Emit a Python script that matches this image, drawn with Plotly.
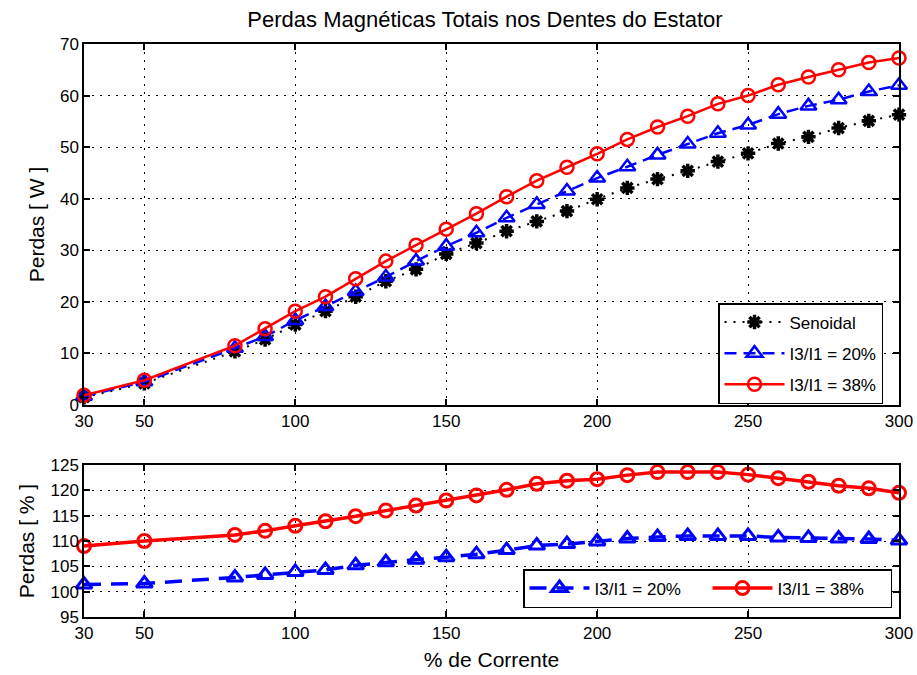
import plotly.graph_objects as go

# Percentage of rated current
corrente = [30, 50, 80, 90, 100, 110, 120, 130, 140, 150, 160, 170, 180,
            190, 200, 210, 220, 230, 240, 250, 260, 270, 280, 290, 300]

# Total magnetic losses in the stator teeth [W]
perdas_senoidal = [1.5, 4.2, 10.4, 12.7, 15.6, 18.2, 21.0, 24.0, 26.3, 29.3,
                   31.4, 33.7, 35.6, 37.6, 39.9, 42.1, 43.8, 45.4, 47.2, 48.8,
                   50.7, 52.0, 53.7, 55.1, 56.3]
perdas_i3_20 = [1.7, 4.5, 11.0, 13.3, 16.4, 19.1, 22.0, 24.8, 27.9, 30.8,
                33.4, 36.3, 38.9, 41.5, 44.0, 46.2, 48.5, 50.6, 52.7, 54.3,
                56.4, 58.0, 59.2, 60.8, 62.0]
perdas_i3_38 = [1.9, 4.8, 11.5, 14.8, 18.2, 21.0, 24.5, 27.9, 31.0, 34.1,
                37.1, 40.4, 43.5, 46.1, 48.7, 51.5, 53.9, 56.0, 58.4, 60.0,
                62.1, 63.6, 65.0, 66.4, 67.3]

# Losses relative to the sinusoidal case [%]
rel_i3_20 = [101.4, 101.6, 102.8, 103.3, 103.9, 104.3, 105.2, 105.8, 106.3,
             106.8, 107.4, 108.2, 109.1, 109.4, 109.9, 110.5, 110.8, 111.0,
             111.0, 111.0, 110.7, 110.6, 110.5, 110.4, 110.1]
rel_i3_38 = [109.0, 110.0, 111.2, 112.0, 113.0, 113.9, 114.9, 116.0, 117.0,
             118.0, 119.0, 120.1, 121.3, 121.9, 122.2, 123.0, 123.6, 123.6,
             123.6, 123.1, 122.4, 121.7, 120.9, 120.4, 119.5]

x_ticks = [30, 50, 100, 150, 200, 250, 300]
y_ticks_top = [0, 10, 20, 30, 40, 50, 60, 70]
y_ticks_bot = [95, 100, 105, 110, 115, 120, 125]

FONT = "Liberation Sans, Arial, sans-serif"
BLACK, BLUE, RED = "#000000", "#0000ff", "#ff0000"
TICK_SIZE = 17
LABEL_SIZE = 21

fig = go.Figure()

# Upper panel: absolute losses
fig.add_trace(go.Scatter(
    x=corrente, y=perdas_senoidal, name="Senoidal", mode="lines+markers",
    line=dict(color=BLACK, width=2, dash="2px,7px"),
    marker=dict(symbol="asterisk-open", size=12, color=BLACK,
                line=dict(color=BLACK, width=3.5)),
    legend="legend", legendgroup="a", cliponaxis=False,
    xaxis="x", yaxis="y"))
fig.add_trace(go.Scatter(
    x=corrente, y=perdas_i3_20, name="I3/I1 = 20%", mode="lines+markers",
    line=dict(color=BLUE, width=2.5, dash="12px,7px"),
    marker=dict(symbol="triangle-up-open", size=14, color=BLUE,
                line=dict(color=BLUE, width=2.5)),
    legend="legend", legendgroup="b", cliponaxis=False,
    xaxis="x", yaxis="y"))
fig.add_trace(go.Scatter(
    x=corrente, y=perdas_i3_38, name="I3/I1 = 38%", mode="lines+markers",
    line=dict(color=RED, width=2.5),
    marker=dict(symbol="circle-open", size=13, color=RED,
                line=dict(color=RED, width=2.5)),
    legend="legend", legendgroup="c", cliponaxis=False,
    xaxis="x", yaxis="y"))

# Lower panel: relative losses
fig.add_trace(go.Scatter(
    x=corrente, y=rel_i3_20, name="I3/I1 = 20%", mode="lines+markers",
    line=dict(color=BLUE, width=3.5, dash="17px,10px"),
    marker=dict(symbol="triangle-up-open", size=14, color=BLUE,
                line=dict(color=BLUE, width=3)),
    legend="legend2", cliponaxis=False, xaxis="x2", yaxis="y2"))
fig.add_trace(go.Scatter(
    x=corrente, y=rel_i3_38, name="I3/I1 = 38%", mode="lines+markers",
    line=dict(color=RED, width=3.5),
    marker=dict(symbol="circle-open", size=13, color=RED,
                line=dict(color=RED, width=3)),
    legend="legend2", cliponaxis=False, xaxis="x2", yaxis="y2"))

axis_common = dict(
    automargin=False,
    showline=True, linecolor=BLACK, linewidth=1.5, mirror="ticks",
    ticks="inside", ticklen=6, tickcolor=BLACK, tickwidth=1.5,
    showgrid=True, gridcolor=BLACK, gridwidth=1.2, griddash="2px,6px",
    zeroline=False, tickfont=dict(family=FONT, size=TICK_SIZE, color=BLACK),
)

x_dom = [84 / 917, 899 / 917]
fig.update_layout(
    template="none",
    width=917, height=675,
    margin=dict(l=0, r=0, t=0, b=0, pad=0, autoexpand=False),
    paper_bgcolor="white", plot_bgcolor="white",
    font=dict(family=FONT, color=BLACK),
    showlegend=True,
    title=dict(text="Perdas Magnéticas Totais nos Dentes do Estator",
               x=485 / 917, xanchor="center",
               y=1 - 19 / 675, yanchor="middle",
               font=dict(family=FONT, size=22, color=BLACK)),
    xaxis=dict(axis_common, domain=x_dom, range=[30, 300],
               tickvals=x_ticks, anchor="y"),
    yaxis=dict(axis_common, domain=[1 - 405 / 675, 1 - 44 / 675],
               range=[0, 70], tickvals=y_ticks_top, anchor="x",
               title=dict(text="Perdas [ W ]", standoff=10,
                          font=dict(family=FONT, size=LABEL_SIZE,
                                    color=BLACK))),
    xaxis2=dict(axis_common, domain=x_dom, range=[30, 300],
                tickvals=x_ticks, anchor="y2",
                title=dict(text="% de Corrente", standoff=10,
                           font=dict(family=FONT, size=LABEL_SIZE,
                                     color=BLACK))),
    yaxis2=dict(axis_common, domain=[1 - 617 / 675, 1 - 465 / 675],
                range=[95, 125], tickvals=y_ticks_bot, anchor="x2",
                title=dict(text="Perdas [ % ]", standoff=10,
                           font=dict(family=FONT, size=LABEL_SIZE,
                                     color=BLACK))),
    legend=dict(x=718 / 917, y=1 - 303 / 675, xanchor="left", yanchor="top",
                bgcolor="white", bordercolor=BLACK, borderwidth=1.5,
                font=dict(family=FONT, size=TICK_SIZE, color=BLACK),
                tracegroupgap=6, itemwidth=60),
    legend2=dict(x=523 / 917, y=1 - 569 / 675, xanchor="left", yanchor="top",
                 orientation="h", bgcolor="white", bordercolor=BLACK,
                 borderwidth=1.5,
                 font=dict(family=FONT, size=TICK_SIZE, color=BLACK),
                 itemwidth=60, entrywidth=108),
)

fig.write_html("out.html")
